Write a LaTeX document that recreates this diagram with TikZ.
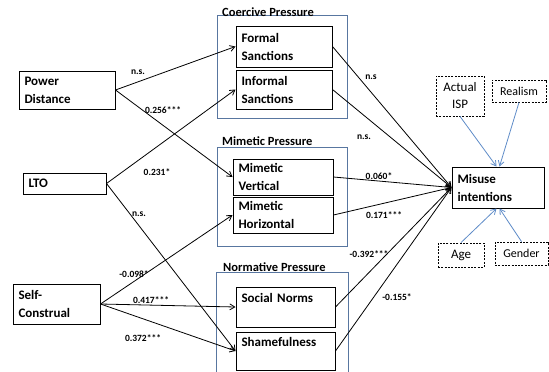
\documentclass[tikz,border=0pt]{standalone}
\usepackage{fontspec}
\setmainfont{Carlito}
\usetikzlibrary{arrows.meta,calc}
\definecolor{grpblue}{RGB}{88,118,160}
\definecolor{arrblue}{RGB}{95,140,200}
\begin{document}
\begin{tikzpicture}[x=1pt,y=-1pt,
  box/.style={draw, line width=1pt, align=left, inner xsep=5.5pt, inner ysep=0pt,
    font=\bfseries\fontsize{13}{18}\selectfont, anchor=center},
  dbox/.style={draw, line width=0.8pt, dash pattern=on 2pt off 1.3pt, align=center,
    inner sep=0pt, font=\fontsize{13}{17}\selectfont, anchor=center},
  grp/.style={draw=grpblue, line width=0.8pt},
  gtitle/.style={font=\bfseries\fontsize{12.5}{14}\selectfont, anchor=west, inner sep=0pt},
  lab/.style={font=\bfseries\fontsize{9.5}{11}\selectfont, inner sep=0pt},
  arr/.style={draw, line width=0.8pt, -{Straight Barb[length=5pt,width=6pt]}},
  barr/.style={draw=arrblue, line width=0.8pt, -{Straight Barb[length=5pt,width=6pt]}}
]
\useasboundingbox (0,0) rectangle (549,372);

% groups
\draw[grp] (217,15) rectangle (347,118);
\draw[grp] (217,147) rectangle (347,246);
\draw[grp] (216,373) -- (216,272) -- (348,272) -- (348,373);
\node[gtitle] (tcoe) at (222,12) {Coercive Pressure};
\node[gtitle] (tmim) at (222,141) {Mimetic Pressure};
\node[gtitle] (tnor) at (223,267) {Normative Pressure};

% left boxes
\node[box, text width=85pt, minimum height=38pt] (pd) at (67,90) {Power\\Distance};
\node[box, text width=72pt, minimum height=21pt] (lto) at (64.5,183.5) {LTO};
\node[box, text width=76pt, minimum height=40pt] (sc) at (56.5,304) {Self-\\Construal};

% middle boxes
\node[box, text width=85pt, minimum height=41pt] (formal) at (284,46.5) {Formal\\Sanctions};
\node[box, text width=85pt, minimum height=39pt] (informal) at (284,89.5) {Informal\\Sanctions};
\node[box, text width=89pt, minimum height=36pt] (mimv) at (283,177) {Mimetic\\Vertical};
\node[box, text width=89pt, minimum height=36pt] (mimh) at (283,215) {Mimetic\\Horizontal};
\node[box, text width=88pt, minimum height=40pt] (social) at (285.5,307) {Social Norms\\\mbox{}};
\node[box, text width=88pt, minimum height=38pt] (sham) at (285.5,351) {Shamefulness\\\mbox{}};

% outcome
\node[box, text width=81pt, minimum height=41pt] (mis) at (498,187.5) {Misuse\\intentions};

% controls
\node[dbox, minimum width=48pt, minimum height=40pt] (isp) at (460,96) {Actual\\ISP};
\node[dbox, minimum width=54pt, minimum height=22pt, font=\fontsize{12}{14}\selectfont] (real) at (519,91) {Realism};
\node[dbox, minimum width=46pt, minimum height=24pt] (age) at (461,255) {Age};
\node[dbox, minimum width=53pt, minimum height=23pt, font=\fontsize{12}{14}\selectfont] (gen) at (521.5,253.5) {Gender};

\coordinate (mtl) at ($(mis.north)+(-1.5,0)$);
\coordinate (mtr) at ($(mis.north)+(1.5,0)$);
\coordinate (mbl) at ($(mis.south)+(-1.5,0)$);
\coordinate (mbr) at ($(mis.south)+(1.5,0)$);

% left arrows
\path[arr] (pd.east) -- (formal.west);
\path[arr] (pd.east) -- (mimv.west);
\path[arr] (lto.east) -- (informal.west);
\path[arr] (lto.east) -- (sham.west);
\path[arr] (sc.east) -- (mimh.west);
\path[arr] (sc.east) -- (social.west);
\path[arr] (sc.east) -- (sham.west);

% right arrows
\path[arr] (formal.east) -- (mis.west);
\path[arr] (informal.east) -- (mis.west);
\path[arr] (mimv.east) -- (mis.west);
\path[arr] (mimh.east) -- (mis.west);
\path[arr] (social.east) -- (mis.west);
\path[arr] (sham.east) -- (mis.west);

% control arrows
\path[barr] (isp.south) -- (mtl);
\path[barr] (real.south) -- (mtr);
\path[barr] (age.north) -- (mbl);
\path[barr] (gen.north) -- (mbr);

% labels
\node[lab] (l1) at (138,72) {n.s.};
\node[lab] (l2) at (163,110) {0.256***};
\node[lab] (l3) at (157,172) {0.231*};
\node[lab] (l4) at (139,214) {n.s.};
\node[lab] (l5) at (134,274) {-0.098*};
\node[lab] (l6) at (151,300) {0.417***};
\node[lab] (l7) at (143,338) {0.372***};
\node[lab] (r1) at (371,77) {n.s};
\node[lab] (r2) at (364,137) {n.s.};
\node[lab] (r3) at (379,176) {0.060*};
\node[lab] (r4) at (384,215) {0.171***};
\node[lab] (r5) at (369,254) {-0.392***};
\node[lab] (r6) at (397,297) {-0.155*};
\end{tikzpicture}
\end{document}
